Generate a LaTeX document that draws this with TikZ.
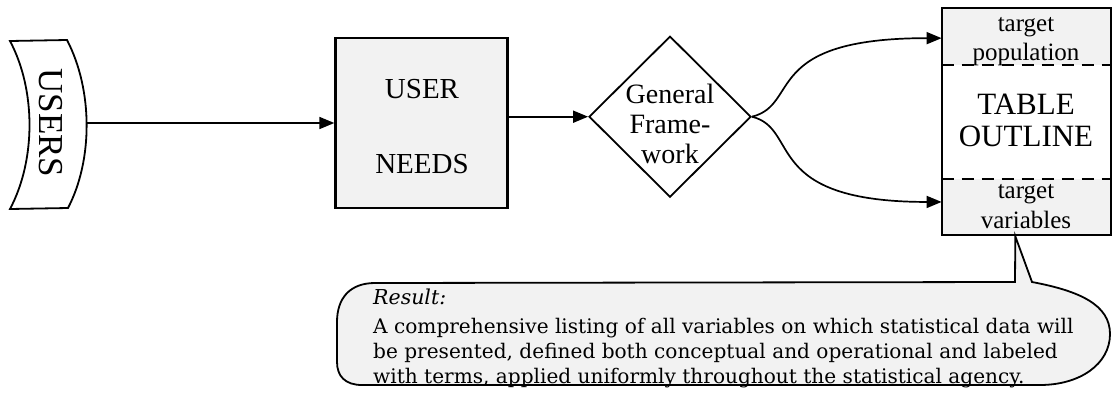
\documentclass[tikz,border=0pt]{standalone}
\usepackage{fontspec}
\setmainfont{Liberation Serif}
\newfontfamily\calloutfont{DejaVu Serif}
\usetikzlibrary{shapes.geometric,arrows.meta,calc}
\begin{document}
\begin{tikzpicture}[x=1pt,y=-1pt,
  arr/.style={line width=1.7pt,-{Triangle[length=15pt,width=12pt]}},
  outline/.style={draw,line width=2pt},
  stipple/.style={fill=black!5},
  biglbl/.style={font=\fontsize{29}{30}\selectfont,anchor=base,inner sep=0},
  fwlbl/.style={font=\fontsize{28}{30}\selectfont,anchor=base,inner sep=0},
  tbllbl/.style={font=\fontsize{31}{32}\selectfont,anchor=base,inner sep=0},
  smalllbl/.style={font=\fontsize{25}{26}\selectfont,anchor=base,inner sep=0},
  dashline/.style={line width=1.6pt,dash pattern=on 12pt off 8pt},
  calltext/.style={font=\calloutfont\fontsize{20.1}{22}\selectfont,anchor=base west,inner sep=0}
]
\useasboundingbox (0,0) rectangle (1113,394);

% USERS banner
\draw[line width=1.8pt,fill=white] (10,41) -- (67,40) .. controls (93,90) and (93,160) .. (68,208)
  -- (10,209) .. controls (36,160) and (36,90) .. (10,41) -- cycle;
\node[font=\fontsize{35}{35}\selectfont,rotate=-90,inner sep=0] (users) at (51,123) {USERS};
\coordinate (usersE) at (87,123);

% USER NEEDS
\node[outline,stipple,line width=2.3pt,minimum width=172pt,minimum height=170pt,inner sep=0] (needs) at (421.5,123) {};
\node[biglbl] (needsA) at (422,98.3) {USER};
\node[biglbl] (needsB) at (422,173.3) {NEEDS};

% General Framework diamond
\node[draw,diamond,line width=1.8pt,minimum width=162pt,minimum height=161pt,inner sep=0,aspect=1] (fw) at (670,116.7) {};
\node[fwlbl] (fwA) at (670,103.3) {General};
\node[fwlbl] (fwB) at (670,133.3) {Frame-};
\node[fwlbl] (fwC) at (670,163.3) {work};

% TABLE OUTLINE
\node[minimum width=169pt,minimum height=226.7pt,inner sep=0] (tbl) at (1026.3,121.7) {};
\coordinate (d1w) at ($(tbl.north west)+(0,56.7)$);
\coordinate (d1e) at ($(tbl.north east)+(0,56.7)$);
\coordinate (d2w) at ($(tbl.south west)+(0,-56)$);
\coordinate (d2e) at ($(tbl.south east)+(0,-56)$);
\fill[black!5] (tbl.north west) rectangle (d1e);
\fill[black!5] (d2w) rectangle (tbl.south east);
\draw[dashline] (d1w) -- (d1e);
\draw[dashline] (d2w) -- (d2e);
\draw[outline] (tbl.north west) rectangle (tbl.south east);
\node[smalllbl] (tgtA) at (1026,31.7) {target};
\node[smalllbl] (pop) at (1026,60) {population};
\node[tbllbl] (tblA) at (1026,114) {TABLE};
\node[tbllbl] (tblB) at (1026,146.7) {OUTLINE};
\node[smalllbl] (tgtB) at (1026,198.3) {target};
\node[smalllbl] (vars) at (1026,228.3) {variables};
\coordinate (tpop) at ($(tbl.north west)+(0,30)$);
\coordinate (tvar) at ($(tbl.south west)+(0,-33.3)$);

% connectors
\draw[arr] (usersE) -- (needs.west);
\draw[arr] (needs.east |- fw.west) -- (fw.west);
\draw[arr] (fw.east) .. controls +(49,-12) and +(-181,0) .. (tpop);
\draw[arr] (fw.east) .. controls +(49,12) and +(-181,0) .. (tvar);

% callout
\coordinate (tailtip) at ($(tbl.south)+(-11,1)$);
\draw[line width=1.8pt,stipple] (1032,282) .. controls (1080,291) and (1110,305) .. (1110,334)
  .. controls (1110,364) and (1080,385) .. (1040,385) -- (362,385)
  .. controls (345,385) and (337,376) .. (337,362) -- (337,322)
  .. controls (337,298) and (350,283) .. (375,283) -- (1015,282) -- (tailtip) -- cycle;
\node[calltext,font=\calloutfont\itshape\fontsize{20.5}{22}\selectfont] (res) at (373,304) {Result:};
\node[calltext] (r1) at (373,333) {A comprehensive listing of all variables on which statistical data will};
\node[calltext] (r2) at (373,358.5) {be presented, defined both conceptual and operational and labeled};
\node[calltext] (r3) at (373,383) {with terms, applied uniformly throughout the statistical agency.};
\end{tikzpicture}
\end{document}
